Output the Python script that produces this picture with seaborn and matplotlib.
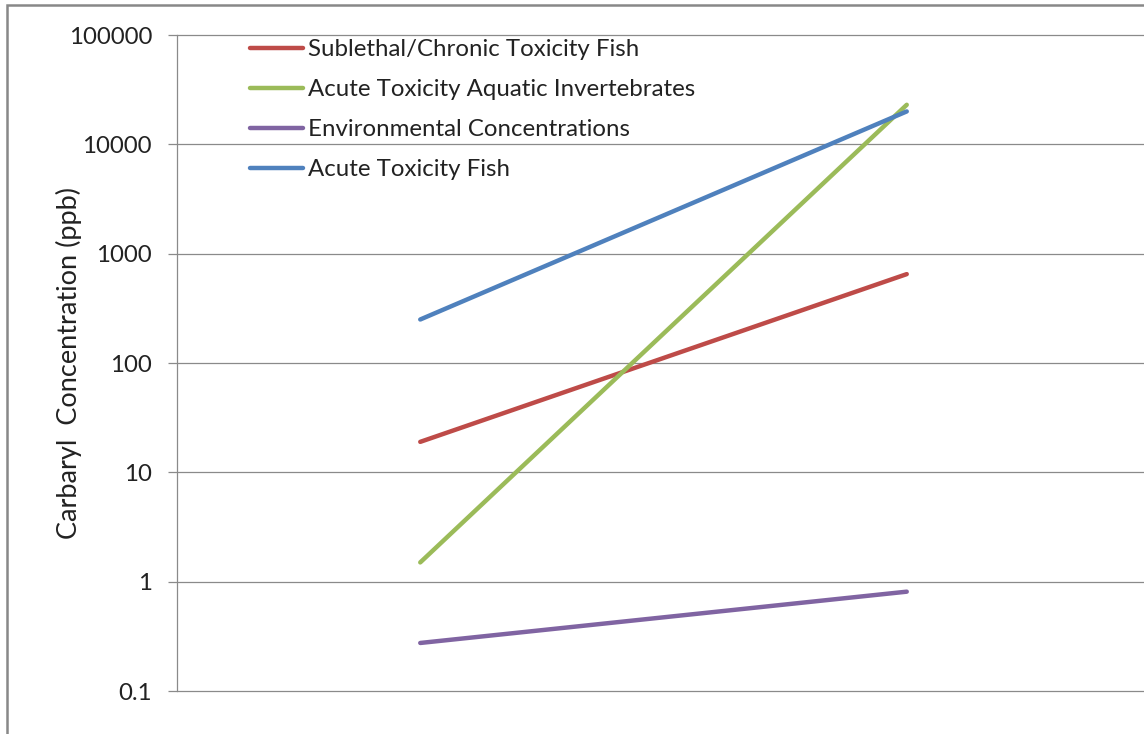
import matplotlib
matplotlib.use("Agg")
import matplotlib.pyplot as plt
import matplotlib.patches as mpatches
import seaborn as sns
import pandas as pd

# Two sampling points per series (lower / upper bound of reported range)
points = [0, 1]
series_names = [
    "Sublethal/Chronic Toxicity Fish",
    "Acute Toxicity Aquatic Invertebrates",
    "Environmental Concentrations",
    "Acute Toxicity Fish",
]
sublethal_fish = [19, 650]
acute_invert = [1.5, 23000]
environmental = [0.275, 0.81]
acute_fish = [250, 20000]
series_colors = ["#BE4B48", "#9BBB59", "#8064A2", "#4F81BD"]
y_ticks = [0.1, 1, 10, 100, 1000, 10000, 100000]
y_tick_labels = ["0.1", "1", "10", "100", "1000", "10000", "100000"]

rows = []
for name, vals in zip(series_names, [sublethal_fish, acute_invert, environmental, acute_fish]):
    for p, v in zip(points, vals):
        rows.append({"point": p, "value": v, "series": name})
df = pd.DataFrame(rows)

sns.set_theme(style="white")
plt.rcParams["font.family"] = ["Lato", "DejaVu Sans"]

W, H = 1144, 734
fig = plt.figure(figsize=(W / 100, H / 100), dpi=100)
left, right, top, bottom = 177, 1150, 35, 691
ax = fig.add_axes([left / W, 1 - bottom / H, (right - left) / W, (bottom - top) / H])

# Outer chart border (partly outside the canvas on the right and bottom)
fig.patches.append(mpatches.Rectangle((7 / W, -0.05), 1.1, 1 - 5 / H + 0.05,
                                      transform=fig.transFigure, fill=False,
                                      edgecolor="#888888", linewidth=1.8, zorder=0))

sns.lineplot(data=df, x="point", y="value", hue="series", hue_order=series_names,
             palette=series_colors, linewidth=3.2, ax=ax, legend=True,
             solid_capstyle="round")

ax.set_yscale("log")
ax.set_ylim(0.1, 100000)
ax.set_xlim(-0.5, 1.5)
ax.set_yticks(y_ticks)
ax.set_yticklabels(y_tick_labels)
ax.minorticks_off()
ax.set_xticks([])
ax.set_xlabel("")
ax.set_ylabel("Carbaryl  Concentration (ppb)", fontsize=19.5, color="#222222")
ax.yaxis.set_label_coords((82 - left) / (right - left), 0.5)

ax.grid(axis="y", color="#8a8a8a", linewidth=0.9)
for gl in ax.yaxis.get_gridlines():
    gl.set_clip_on(False)
ax.set_axisbelow(True)
for s in ["top", "right", "bottom"]:
    ax.spines[s].set_visible(False)
ax.spines["left"].set_color("#8a8a8a")
ax.spines["left"].set_linewidth(0.9)
ax.tick_params(axis="y", which="major", direction="out", length=6.5, width=0.9,
               color="#8a8a8a", pad=11.5, labelsize=17.3, labelcolor="#222222", left=True)

leg = ax.legend(loc="upper left", bbox_to_anchor=((250 - left) / (right - left), 1.0 - 4 / (bottom - top)),
                frameon=False, fontsize=17.3, handlelength=2.2, handletextpad=0.2,
                labelspacing=0.79, borderpad=0, borderaxespad=0)
for t in leg.get_texts():
    t.set_color("#222222")
for h in leg.get_lines():
    h.set_linewidth(3.2)

fig.savefig("out.png", dpi=100)
